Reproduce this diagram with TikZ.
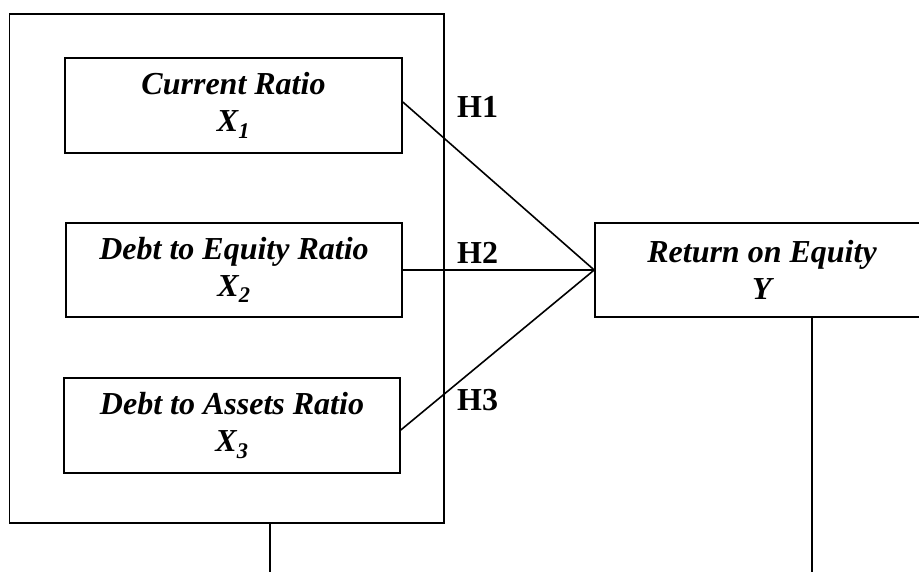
\documentclass[tikz,border=0pt]{standalone}
\usepackage{fontspec}
\setmainfont{Liberation Serif}
\begin{document}
\begin{tikzpicture}[x=1pt,y=-1pt,
  varbox/.style={draw,line width=1.6pt,inner sep=0pt,align=center,
    font=\fontsize{32}{37}\selectfont\bfseries\itshape},
  hlab/.style={anchor=west,inner sep=0pt,font=\fontsize{32}{37}\selectfont\bfseries},
  link/.style={draw,line width=1.6pt}]
\useasboundingbox (0,0) rectangle (919,572);
\clip (0,0) rectangle (919,572);
\node[draw,line width=1.6pt,minimum width=434.5pt,minimum height=509pt,inner sep=0pt] (outer) at (226.75,268.5) {};
\node[varbox,minimum width=337pt,minimum height=95pt] (b1) at (233.5,105.5) {Current Ratio\\X\textsubscript{1}};
\node[varbox,minimum width=336pt,minimum height=94pt] (b2) at (234,270) {Debt to Equity Ratio\\X\textsubscript{2}};
\node[varbox,minimum width=336pt,minimum height=95pt] (b3) at (232,425.5) {Debt to Assets Ratio\\X\textsubscript{3}};
\node[varbox,minimum width=334pt,minimum height=94pt] (roe) at (762,270) {Return on Equity\\Y};
\node[hlab] (h1) at (457,107) {H1};
\node[hlab] (h2) at (457,253) {H2};
\node[hlab] (h3) at (457,400) {H3};
\coordinate (c1) at (270,580);
\coordinate (c2) at (812,580);
\draw[link] ([yshift=3.5pt]b1.east) -- (roe.west);
\draw[link] (b2.east) -- (roe.west);
\draw[link] ([yshift=-4.5pt]b3.east) -- (roe.west);
\draw[link] (outer.south -| c1) -- (c1);
\draw[link] (roe.south -| c2) -- (c2);
\end{tikzpicture}
\end{document}
